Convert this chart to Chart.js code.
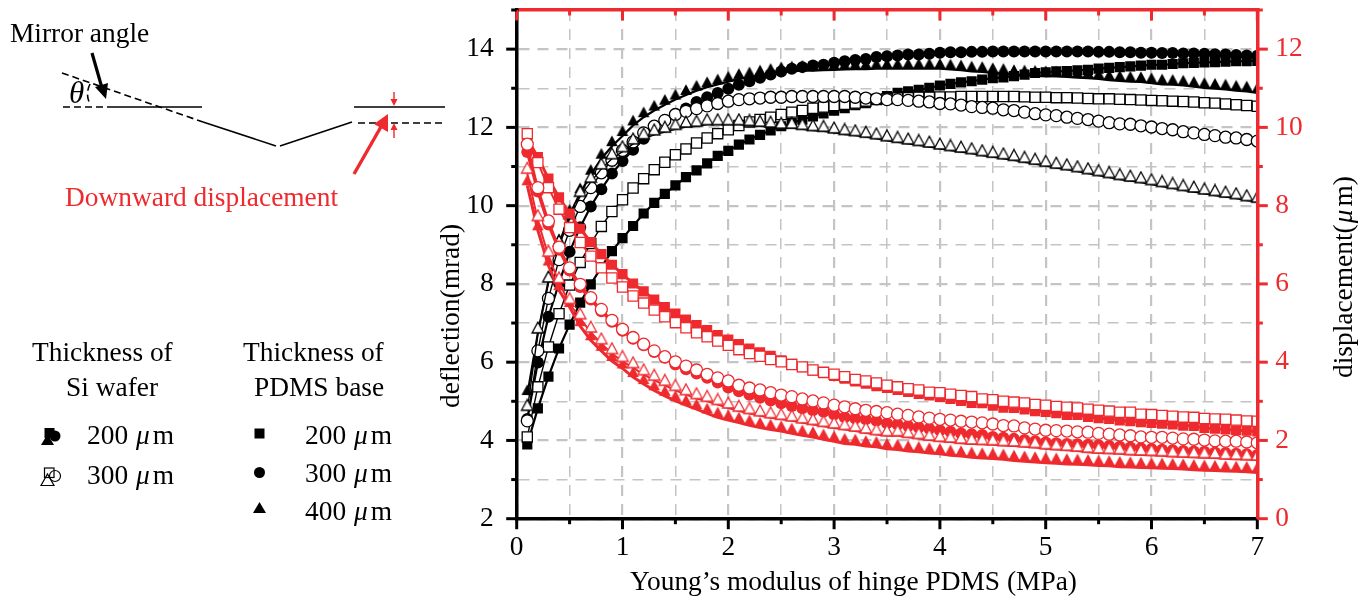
<!DOCTYPE html>
<html>
<head>
<meta charset="utf-8">
<script src="https://cdn.jsdelivr.net/npm/chart.js@4"></script>
<style>
    html, body { margin: 0; padding: 0; background: #fff; }
    #wrap { position: relative; width: 1368px; height: 599px; overflow: hidden; font-family: "Liberation Serif", serif; font-size: 27.4px; color: #000; }
    canvas { position: absolute; left: 0; top: 0; }
    svg { position: absolute; left: 0; top: 0; }
    .t { position: absolute; white-space: nowrap; line-height: 1; }
    .t i { margin: 0 3px 0 1px; }
    .rot { transform-origin: 0 0; transform: rotate(-90deg); }
    .red { color: #ee2a2e; }
</style>
</head>
<body>
<div id="wrap">
    <canvas id="chart" width="1368" height="599"></canvas>
    <svg width="1368" height="599">
        <!-- mirror sketch -->
        <g fill="none" stroke="#000" stroke-width="1.6">
            <path d="M62 73L203 122M63 107H110M90 84Q85 94 90 104" stroke-dasharray="7 4"/>
            <path d="M110 107H202M203 122L276 146M280 146L352 122M354 107H445"/>
            <path d="M358 123H445" stroke-dasharray="7 4"/>
            <path d="M92 53L102 88" stroke-width="3.2"/>
        </g>
        <path d="M106 99L95 87L108 83Z" fill="#000"/>
        <g fill="none" stroke="#ee2a2e">
            <path d="M354 174L382 125" stroke-width="3.4"/>
            <path d="M394 92V102M394 128V138" stroke-width="1.4"/>
        </g>
        <path d="M388 114L388 132L374 124Z" fill="#ee2a2e"/>
        <path d="M394 106L390.5 99H397.5ZM394 123L390.5 130H397.5Z" fill="#ee2a2e"/>
        <!-- legend marks -->
        <g fill="#000">
            <rect x="44.5" y="428" width="10" height="10"/>
            <circle cx="55" cy="436" r="5.5"/>
            <path d="M47.5 434L54 445H41Z"/>
            <rect x="254.5" y="428.5" width="10" height="10"/>
            <circle cx="259.5" cy="472.5" r="5.5"/>
            <path d="M259.5 502L266 513H253Z"/>
        </g>
        <g fill="none" stroke="#000" stroke-width="1.2">
            <rect x="44.5" y="468" width="9.5" height="9.5"/>
            <circle cx="55" cy="476" r="5.5"/>
            <path d="M47.5 474L54 485.5H41Z"/>
        </g>
    </svg>
    <div class="t" style="left:10px;top:20px">Mirror angle</div>
    <div class="t" style="left:68px;top:77px;font-size:31px"><i>θ</i></div>
    <div class="t red" style="left:65px;top:184px">Downward displacement</div>
    <div class="t" style="left:32px;top:339px">Thickness of</div>
    <div class="t" style="left:66px;top:374px">Si wafer</div>
    <div class="t" style="left:243px;top:339px">Thickness of</div>
    <div class="t" style="left:254px;top:374px">PDMS base</div>
    <div class="t" style="left:87px;top:422px">200 <i>μ</i>m</div>
    <div class="t" style="left:87px;top:462px">300 <i>μ</i>m</div>
    <div class="t" style="left:305px;top:422px">200 <i>μ</i>m</div>
    <div class="t" style="left:305px;top:460px">300 <i>μ</i>m</div>
    <div class="t" style="left:305px;top:498px">400 <i>μ</i>m</div>
    <div class="t" style="left:630px;top:568px">Young’s modulus of hinge PDMS (MPa)</div>
    <div class="t rot" style="left:437px;top:408px">deflection(mrad)</div>
    <div class="t rot" style="left:1330px;top:378px">displacement(<i>μ</i>m)</div>
</div>
<script>
const xValues = [
    0.1,0.2,0.3,0.4,0.5,0.6,0.7,0.8,0.9,1.0,
    1.1,1.2,1.3,1.4,1.5,1.6,1.7,1.8,1.9,2.0,
    2.1,2.2,2.3,2.4,2.5,2.6,2.7,2.8,2.9,3.0,
    3.1,3.2,3.3,3.4,3.5,3.6,3.7,3.8,3.9,4.0,
    4.1,4.2,4.3,4.4,4.5,4.6,4.7,4.8,4.9,5.0,
    5.1,5.2,5.3,5.4,5.5,5.6,5.7,5.8,5.9,6.0,
    6.1,6.2,6.3,6.4,6.5,6.6,6.7,6.8,6.9,7.0
];

// deflection (mrad), Si wafer 200 um = filled, 300 um = open
const deflSquareFilled = [
    3.90,4.82,5.63,6.35,6.96,7.52,7.99,8.43,8.84,9.17,
    9.48,9.80,10.07,10.30,10.52,10.73,10.90,11.08,11.27,11.40,
    11.56,11.69,11.81,11.92,12.03,12.11,12.20,12.28,12.36,12.43,
    12.49,12.57,12.62,12.71,12.80,12.88,12.92,12.96,13.01,13.07,
    13.11,13.15,13.18,13.22,13.26,13.28,13.31,13.35,13.39,13.41,
    13.43,13.44,13.46,13.47,13.50,13.52,13.54,13.56,13.58,13.60,
    13.60,13.62,13.64,13.65,13.66,13.67,13.68,13.69,13.69,13.70
];
const deflCircleFilled = [
    4.55,5.99,7.16,8.02,8.82,9.45,9.98,10.42,10.82,11.14,
    11.43,11.71,11.97,12.18,12.33,12.48,12.65,12.77,12.88,12.99,
    13.09,13.18,13.27,13.35,13.43,13.50,13.54,13.58,13.60,13.65,
    13.69,13.72,13.75,13.80,13.82,13.84,13.86,13.86,13.88,13.91,
    13.92,13.92,13.93,13.93,13.94,13.94,13.94,13.94,13.94,13.94,
    13.94,13.94,13.94,13.94,13.93,13.93,13.92,13.92,13.91,13.91,
    13.90,13.90,13.89,13.89,13.88,13.87,13.86,13.85,13.84,13.83
];
const deflTriangleFilled = [
    5.16,6.74,8.06,9.02,9.77,10.32,10.79,11.20,11.52,11.78,
    12.05,12.26,12.43,12.58,12.71,12.83,12.94,13.03,13.10,13.17,
    13.24,13.28,13.33,13.37,13.41,13.43,13.45,13.45,13.46,13.47,
    13.48,13.49,13.49,13.50,13.50,13.50,13.50,13.50,13.50,13.50,
    13.48,13.46,13.43,13.42,13.39,13.37,13.34,13.33,13.32,13.31,
    13.30,13.29,13.27,13.26,13.24,13.21,13.19,13.17,13.16,13.13,
    13.10,13.09,13.07,13.04,13.01,12.99,12.97,12.94,12.92,12.88
];
const deflSquareOpen = [
    4.09,5.37,6.39,7.24,7.97,8.55,9.03,9.47,9.85,10.15,
    10.45,10.69,10.92,11.11,11.30,11.45,11.60,11.73,11.84,11.94,
    12.05,12.14,12.20,12.26,12.33,12.39,12.43,12.49,12.52,12.56,
    12.59,12.62,12.67,12.71,12.73,12.75,12.76,12.77,12.77,12.78,
    12.78,12.79,12.79,12.79,12.79,12.79,12.79,12.78,12.77,12.77,
    12.76,12.76,12.75,12.74,12.73,12.73,12.72,12.71,12.70,12.69,
    12.68,12.67,12.66,12.65,12.63,12.62,12.60,12.58,12.56,12.54
];
const deflCircleOpen = [
    4.50,6.29,7.63,8.62,9.37,9.98,10.46,10.84,11.16,11.41,
    11.63,11.86,12.03,12.18,12.33,12.41,12.48,12.55,12.61,12.67,
    12.71,12.73,12.75,12.77,12.77,12.79,12.79,12.79,12.79,12.79,
    12.79,12.77,12.75,12.73,12.71,12.71,12.69,12.67,12.65,12.61,
    12.60,12.57,12.53,12.51,12.49,12.45,12.43,12.39,12.35,12.32,
    12.30,12.26,12.23,12.20,12.16,12.12,12.09,12.08,12.04,12.01,
    11.97,11.94,11.89,11.86,11.82,11.79,11.75,11.73,11.69,11.65
];
const deflTriangleOpen = [
    4.77,6.75,8.05,8.97,9.67,10.24,10.60,10.94,11.20,11.38,
    11.58,11.71,11.81,11.88,11.95,12.01,12.03,12.07,12.07,12.07,
    12.07,12.05,12.03,12.01,11.98,11.98,11.95,11.92,11.90,11.86,
    11.82,11.79,11.75,11.71,11.66,11.62,11.58,11.54,11.50,11.45,
    11.41,11.37,11.33,11.28,11.24,11.20,11.16,11.11,11.06,11.01,
    10.96,10.92,10.87,10.82,10.77,10.72,10.67,10.63,10.59,10.54,
    10.49,10.44,10.39,10.35,10.30,10.26,10.22,10.18,10.13,10.09
];

// displacement (um), right axis
const dispSquareFilled = [
    9.70,9.24,8.69,8.21,7.80,7.41,7.07,6.76,6.49,6.25,
    6.01,5.81,5.60,5.41,5.24,5.09,4.95,4.82,4.69,4.58,
    4.46,4.35,4.25,4.16,4.05,3.96,3.87,3.79,3.72,3.65,
    3.58,3.51,3.45,3.39,3.34,3.29,3.24,3.19,3.15,3.11,
    3.06,3.01,2.96,2.95,2.89,2.84,2.83,2.79,2.75,2.73,
    2.70,2.65,2.65,2.60,2.57,2.55,2.51,2.49,2.47,2.45,
    2.43,2.41,2.38,2.37,2.32,2.30,2.28,2.26,2.25,2.23
];
const dispCircleFilled = [
    9.37,8.36,7.52,6.87,6.34,5.92,5.60,5.30,5.03,4.80,
    4.60,4.43,4.26,4.11,3.94,3.82,3.71,3.60,3.48,3.35,
    3.26,3.17,3.09,3.02,2.95,2.88,2.82,2.77,2.73,2.66,
    2.59,2.56,2.54,2.50,2.44,2.41,2.37,2.33,2.30,2.26,
    2.22,2.18,2.16,2.14,2.09,2.07,2.04,2.01,1.98,1.95,
    1.93,1.91,1.90,1.89,1.88,1.86,1.84,1.82,1.80,1.78,
    1.76,1.75,1.73,1.72,1.71,1.69,1.68,1.66,1.65,1.63
];
const dispTriangleFilled = [
    8.52,7.37,6.47,5.84,5.41,4.92,4.56,4.29,4.03,3.84,
    3.62,3.44,3.28,3.14,3.01,2.90,2.80,2.69,2.59,2.52,
    2.46,2.39,2.33,2.28,2.24,2.18,2.13,2.09,2.03,1.98,
    1.92,1.90,1.86,1.84,1.79,1.77,1.73,1.71,1.68,1.66,
    1.62,1.60,1.57,1.55,1.54,1.52,1.49,1.47,1.45,1.43,
    1.42,1.40,1.39,1.38,1.36,1.35,1.33,1.32,1.31,1.30,
    1.29,1.28,1.27,1.25,1.24,1.23,1.22,1.21,1.20,1.18
];
const dispSquareOpen = [
    9.84,9.10,8.46,7.91,7.44,7.06,6.71,6.41,6.15,5.92,
    5.69,5.51,5.33,5.16,5.01,4.88,4.75,4.65,4.54,4.43,
    4.32,4.22,4.15,4.07,4.01,3.94,3.88,3.80,3.74,3.69,
    3.63,3.56,3.52,3.47,3.41,3.37,3.32,3.29,3.23,3.22,
    3.18,3.15,3.12,3.06,3.04,3.00,2.98,2.96,2.92,2.90,
    2.87,2.85,2.83,2.80,2.77,2.75,2.72,2.72,2.67,2.66,
    2.64,2.62,2.60,2.59,2.56,2.55,2.54,2.52,2.50,2.49
];
const dispCircleOpen = [
    9.57,8.46,7.61,6.94,6.41,5.99,5.65,5.35,5.07,4.84,
    4.63,4.46,4.29,4.14,4.01,3.90,3.80,3.69,3.60,3.52,
    3.41,3.34,3.29,3.22,3.16,3.12,3.06,3.01,2.96,2.90,
    2.86,2.81,2.77,2.74,2.71,2.67,2.64,2.60,2.57,2.54,
    2.52,2.49,2.47,2.45,2.42,2.38,2.37,2.32,2.29,2.26,
    2.25,2.24,2.22,2.21,2.18,2.16,2.14,2.12,2.09,2.08,
    2.08,2.06,2.04,2.03,2.01,1.99,1.98,1.98,1.96,1.94
];
const dispTriangleOpen = [
    8.83,7.62,6.71,6.03,5.50,5.11,4.77,4.47,4.22,4.02,
    3.86,3.68,3.54,3.41,3.28,3.17,3.07,3.00,2.92,2.83,
    2.75,2.69,2.63,2.58,2.54,2.50,2.45,2.41,2.36,2.32,
    2.28,2.24,2.19,2.15,2.12,2.12,2.08,2.05,2.01,1.98,
    1.96,1.93,1.91,1.90,1.89,1.87,1.86,1.84,1.82,1.79,
    1.77,1.75,1.73,1.70,1.68,1.67,1.66,1.64,1.63,1.62,
    1.61,1.59,1.58,1.57,1.56,1.55,1.53,1.52,1.51,1.50
];

const xTickLabels = [0, 1, 2, 3, 4, 5, 6, 7];
const leftTickLabels = [2, 4, 6, 8, 10, 12, 14];
const rightTickLabels = [0, 2, 4, 6, 8, 10, 12];

const RED = '#ee2a2e';
const BLACK = '#000';
const GRID = '#c4c4c4';
const FONT = { family: '"Liberation Serif", serif', size: 27.4 };

// in the reference the line runs along the triangle's base, not through its
// middle. chart.js centres a canvas point style on the point, so the triangle
// goes in the top half of the canvas
function triangleMark(color, open) {
    const c = document.createElement('canvas');
    c.width = 16;
    c.height = 24;
    const ctx = c.getContext('2d');
    ctx.beginPath();
    ctx.moveTo(8, 1.2);
    ctx.lineTo(13.8, 12);
    ctx.lineTo(2.2, 12);
    ctx.closePath();
    ctx.fillStyle = open ? '#fff' : color;
    ctx.fill();
    if (open) {
        ctx.strokeStyle = color;
        ctx.lineWidth = 1.3;
        ctx.stroke();
    }
    return c;
}

function series(values, axis, shape, color, open) {
    const radius = shape == 'rect' ? 7.2 : shape == 'circle' ? 6 : 8;
    let lineWidth = open ? 1.4 : 2.2;
    if (color == RED) lineWidth = open ? 2 : 3;
    return {
        data: xValues.map((x, i) => ({ x: x, y: values[i] })),
        xAxisID: 'x',
        yAxisID: axis,
        borderColor: color,
        borderWidth: lineWidth,
        pointStyle: shape == 'triangle' ? triangleMark(color, open) : shape,
        pointRadius: radius,
        pointBackgroundColor: open ? '#fff' : color,
        pointBorderColor: color,
        pointBorderWidth: open ? 1.3 : 0,
        tension: 0
    };
}

// chart.js draws the first dataset on top, so the list runs top layer to bottom
const datasets = [
    series(dispTriangleOpen, 'yRight', 'triangle', RED, true),
    series(dispCircleOpen, 'yRight', 'circle', RED, true),
    series(dispSquareOpen, 'yRight', 'rect', RED, true),
    series(dispCircleFilled, 'yRight', 'circle', RED, false),
    series(dispSquareFilled, 'yRight', 'rect', RED, false),
    series(dispTriangleFilled, 'yRight', 'triangle', RED, false),
    series(deflTriangleOpen, 'yLeft', 'triangle', BLACK, true),
    series(deflCircleOpen, 'yLeft', 'circle', BLACK, true),
    series(deflSquareOpen, 'yLeft', 'rect', BLACK, true),
    series(deflCircleFilled, 'yLeft', 'circle', BLACK, false),
    series(deflSquareFilled, 'yLeft', 'rect', BLACK, false),
    series(deflTriangleFilled, 'yLeft', 'triangle', BLACK, false)
];

// chart.js has one tick length per axis and no inward ticks, so do them here
const axisTicks = {
    id: 'axisTicks',
    afterDraw(chart) {
        const ctx = chart.ctx;
        const area = chart.chartArea;
        ctx.save();
        ctx.lineWidth = 3;
        chart.scales.x.ticks.forEach(t => {
            const px = chart.scales.x.getPixelForValue(t.value);
            const len = Number.isInteger(t.value) ? 10.5 : 5.5;
            ctx.strokeStyle = RED;
            ctx.beginPath();
            ctx.moveTo(px, area.top);
            ctx.lineTo(px, area.top + len);
            ctx.stroke();
            ctx.strokeStyle = BLACK;
            ctx.beginPath();
            ctx.moveTo(px, area.bottom);
            ctx.lineTo(px, area.bottom + len);
            ctx.stroke();
        });
        chart.scales.yLeft.ticks.forEach(t => {
            const py = chart.scales.yLeft.getPixelForValue(t.value);
            const len = t.value % 2 == 0 ? 10.5 : 5.5;
            ctx.strokeStyle = BLACK;
            ctx.beginPath();
            ctx.moveTo(area.left, py);
            ctx.lineTo(area.left - len, py);
            ctx.stroke();
        });
        chart.scales.yRight.ticks.forEach(t => {
            const py = chart.scales.yRight.getPixelForValue(t.value);
            const len = t.value % 2 == 0 ? 10.5 : 5.5;
            ctx.strokeStyle = RED;
            ctx.beginPath();
            ctx.moveTo(area.right, py);
            ctx.lineTo(area.right + len, py);
            ctx.stroke();
        });
        ctx.restore();
    }
};

// axis box sizes are fixed so the plot area lands where it should
function fixX(size) {
    return s => { s.height = size; s.paddingLeft = 0; s.paddingRight = 0; };
}
function fixY(size) {
    return s => { s.width = size; s.paddingTop = 0; s.paddingBottom = 0; };
}

new Chart(document.getElementById('chart'), {
    type: 'line',
    data: { datasets: datasets },
    plugins: [axisTicks],
    options: {
        responsive: false,
        animation: false,
        events: [],
        layout: { padding: { left: 456.7, right: 10.7, top: 10, bottom: 30.3 } },
        plugins: { legend: { display: false }, title: { display: false }, tooltip: { enabled: false } },
        scales: {
            x: {
                type: 'linear',
                position: 'bottom',
                min: 0,
                max: 7,
                afterFit: fixX(50),
                border: { display: true, color: BLACK, width: 3.5, dash: [11, 8], z: 1 },
                grid: {
                    drawTicks: false,
                    color: GRID,
                    lineWidth: c => Number.isInteger(c.tick.value) ? 2.2 : 1.5
                },
                ticks: {
                    stepSize: 0.5,
                    autoSkip: false,
                    maxRotation: 0,
                    padding: 13,
                    color: BLACK,
                    font: FONT,
                    callback: v => xTickLabels.includes(v) ? v : ''
                }
            },
            xTop: {
                type: 'linear',
                position: 'top',
                min: 0,
                max: 7,
                afterFit: fixX(0),
                border: { display: true, color: RED, width: 3.5, z: 1 },
                grid: { display: false, drawTicks: false },
                ticks: { display: false }
            },
            yLeft: {
                type: 'linear',
                position: 'left',
                min: 2,
                max: 15,
                afterFit: fixY(60),
                border: { display: true, color: BLACK, width: 3.5, dash: [11, 8], z: 1 },
                grid: {
                    drawTicks: false,
                    color: GRID,
                    lineWidth: c => c.tick.value % 2 == 0 ? 2.2 : 1.5
                },
                ticks: {
                    stepSize: 1,
                    autoSkip: false,
                    padding: 23,
                    color: BLACK,
                    font: FONT,
                    callback: v => leftTickLabels.includes(v) ? v : ''
                }
            },
            yRight: {
                type: 'linear',
                position: 'right',
                min: 0,
                max: 13,
                afterFit: fixY(100),
                border: { display: true, color: RED, width: 3.5, z: 1 },
                grid: { display: false, drawTicks: false },
                ticks: {
                    stepSize: 1,
                    autoSkip: false,
                    padding: 18,
                    color: RED,
                    font: FONT,
                    callback: v => rightTickLabels.includes(v) ? v : ''
                }
            }
        }
    }
});
</script>
</body>
</html>
